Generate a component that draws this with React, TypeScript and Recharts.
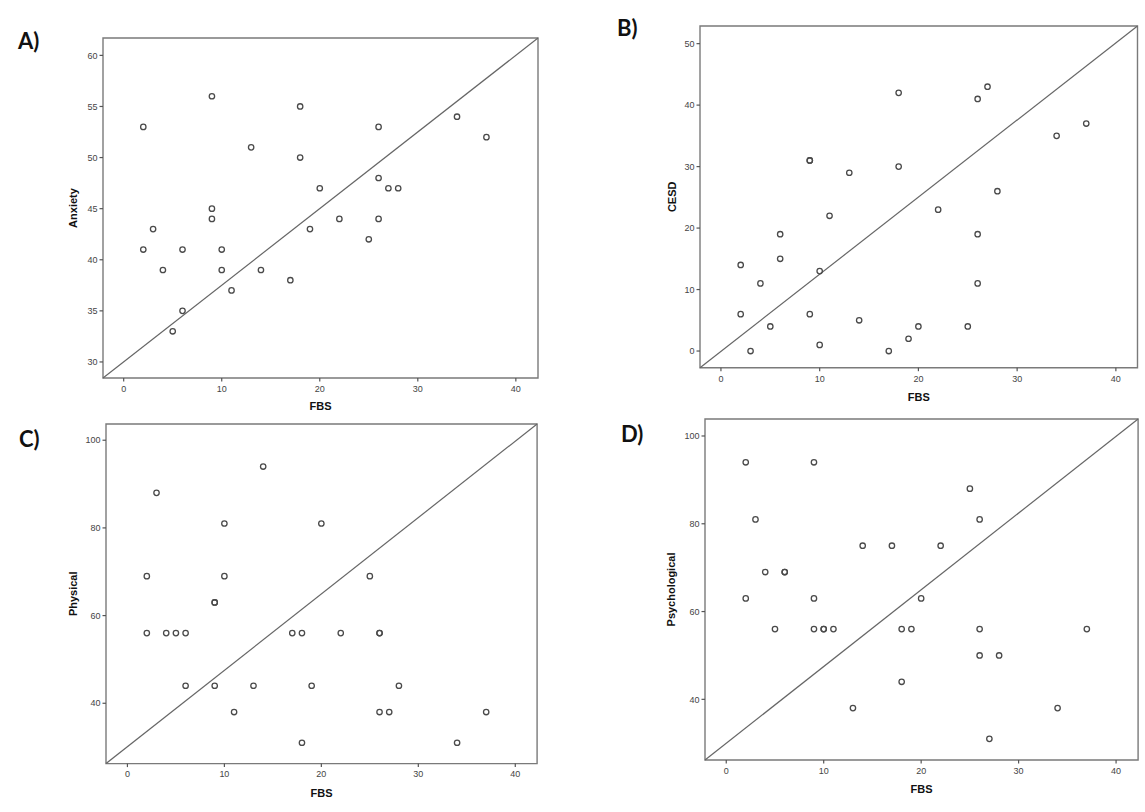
import React from "react";
import {
  ScatterChart,
  Scatter,
  XAxis,
  YAxis,
  ReferenceArea,
  ReferenceLine,
} from "recharts";

// FBS score per subject (sorted), shared by all four panels
const fbs = [2, 2, 3, 4, 5, 6, 6, 9, 9, 9, 10, 10, 11, 13, 14, 17, 18, 18, 19, 20, 22, 25, 26, 26, 26, 27, 28, 34, 37];

// outcome values in the same subject order as fbs
const anxiety = [53, 41, 43, 39, 33, 41, 35, 56, 45, 44, 41, 39, 37, 51, 39, 38, 55, 50, 43, 47, 44, 42, 53, 48, 44, 47, 47, 54, 52];
const cesd = [14, 6, 0, 11, 4, 19, 15, 31, 31, 6, 13, 1, 22, 29, 5, 0, 42, 30, 2, 4, 23, 4, 41, 19, 11, 43, 26, 35, 37];
const physical = [69, 56, 88, 56, 56, 56, 44, 63, 63, 44, 81, 69, 38, 44, 94, 56, 56, 31, 44, 81, 56, 69, 56, 56, 38, 38, 44, 31, 38];
const psychological = [94, 63, 81, 69, 56, 69, 69, 94, 63, 56, 56, 56, 56, 38, 75, 75, 56, 44, 56, 63, 75, 88, 81, 56, 50, 31, 50, 38, 56];

const fbsTicks = [0, 10, 20, 30, 40];
const anxietyTicks = [30, 35, 40, 45, 50, 55, 60];
const cesdTicks = [0, 10, 20, 30, 40, 50];
const qolTicks = [40, 60, 80, 100];

const FONT = '"Liberation Sans", Arial, sans-serif';
const LINE = "#7a7a7a";

type Panel = {
  letter: string;
  title: string;
  values: number[];
  yTicks: number[];
  xDomain: [number, number];
  yDomain: [number, number];
  box: { left: number; top: number; right: number; bottom: number };
  yAxisWidth: number;
  xAxisHeight: number;
  letterPos: { x: number; y: number };
};

const panels: Panel[] = [
  {
    letter: "A)",
    title: "Anxiety",
    values: anxiety,
    yTicks: anxietyTicks,
    xDomain: [-2.11, 42.26],
    yDomain: [28.43, 61.7],
    box: { left: 102.5, top: 37.7, right: 537.5, bottom: 377.7 },
    yAxisWidth: 59,
    xAxisHeight: 57,
    letterPos: { x: 18, y: 41 },
  },
  {
    letter: "B)",
    title: "CESD",
    values: cesd,
    yTicks: cesdTicks,
    xDomain: [-2.12, 42.19],
    yDomain: [-2.71, 52.87],
    box: { left: 700.2, top: 26, right: 1137.7, bottom: 367.7 },
    yAxisWidth: 55,
    xAxisHeight: 59,
    letterPos: { x: 617, y: 28 },
  },
  {
    letter: "C)",
    title: "Physical",
    values: physical,
    yTicks: qolTicks,
    xDomain: [-2.21, 42.25],
    yDomain: [26.24, 103.7],
    box: { left: 106.4, top: 423.7, right: 537.5, bottom: 763.3 },
    yAxisWidth: 66,
    xAxisHeight: 60,
    letterPos: { x: 19, y: 439 },
  },
  {
    letter: "D)",
    title: "Psychological",
    values: psychological,
    yTicks: qolTicks,
    xDomain: [-2.18, 42.26],
    yDomain: [26.18, 103.87],
    box: { left: 704.6, top: 419, right: 1137.7, bottom: 760 },
    yAxisWidth: 67,
    xAxisHeight: 59,
    letterPos: { x: 621, y: 434 },
  },
];

const Ring = (props: any) => (
  <circle cx={props.cx} cy={props.cy} r={2.7} fill="none" stroke="#4a4a4a" strokeWidth={1.3} />
);

const tickStyle = { fontSize: 9, fill: "#444", fontFamily: FONT };
const titleStyle = { fontSize: 11, fontWeight: 700, fill: "#111", fontFamily: FONT, textAnchor: "middle" as const };

function PanelChart({ p }: { p: Panel }) {
  const data = fbs.map((x, i) => ({ x, y: p.values[i] }));
  const marginTop = 10;
  const marginRight = 10;
  const plotW = p.box.right - p.box.left;
  const plotH = p.box.bottom - p.box.top;
  const width = p.yAxisWidth + plotW + marginRight;
  const height = marginTop + plotH + p.xAxisHeight;

  return (
    <div
      style={{
        position: "absolute",
        left: p.box.left - p.yAxisWidth,
        top: p.box.top - marginTop,
        width,
        height,
      }}
    >
      <ScatterChart width={width} height={height} margin={{ top: marginTop, right: marginRight, left: 0, bottom: 0 }}>
        <XAxis
          type="number"
          dataKey="x"
          domain={p.xDomain}
          allowDataOverflow
          ticks={fbsTicks}
          axisLine={false}
          tickLine={{ stroke: "#555", strokeWidth: 1.2 }}
          tickSize={3.5}
          tickMargin={4}
          tick={tickStyle}
          height={p.xAxisHeight}
          label={{ value: "FBS", position: "center", style: titleStyle }}
        />
        <YAxis
          type="number"
          dataKey="y"
          domain={p.yDomain}
          allowDataOverflow
          ticks={p.yTicks}
          axisLine={false}
          tickLine={{ stroke: "#555", strokeWidth: 1.2 }}
          tickSize={3.5}
          tickMargin={2}
          tick={tickStyle}
          width={p.yAxisWidth}
          label={{ value: p.title, angle: -90, position: "center", style: titleStyle }}
        />
        <ReferenceArea
          x1={p.xDomain[0]}
          x2={p.xDomain[1]}
          y1={p.yDomain[0]}
          y2={p.yDomain[1]}
          fill="none"
          fillOpacity={0}
          stroke={LINE}
          strokeWidth={1.4}
        />
        <ReferenceLine
          segment={[
            { x: p.xDomain[0], y: p.yDomain[0] },
            { x: p.xDomain[1], y: p.yDomain[1] },
          ]}
          stroke="#666"
          strokeWidth={1.2}
        />
        <Scatter data={data} shape={Ring} isAnimationActive={false} />
      </ScatterChart>
    </div>
  );
}

export default function App() {
  return (
    <div
      style={{
        position: "absolute",
        left: 0,
        top: 0,
        width: 1145,
        height: 812,
        background: "#fff",
        overflow: "hidden",
      }}
    >
      {panels.map((p) => (
        <React.Fragment key={p.letter}>
          <div
            style={{
              position: "absolute",
              left: p.letterPos.x,
              top: p.letterPos.y - 14,
              height: 28,
              lineHeight: "28px",
              fontFamily: "Lato, 'Open Sans', sans-serif",
              fontWeight: 700,
              fontSize: 22,
              color: "#111",
            }}
          >
            {p.letter}
          </div>
          <PanelChart p={p} />
        </React.Fragment>
      ))}
    </div>
  );
}
